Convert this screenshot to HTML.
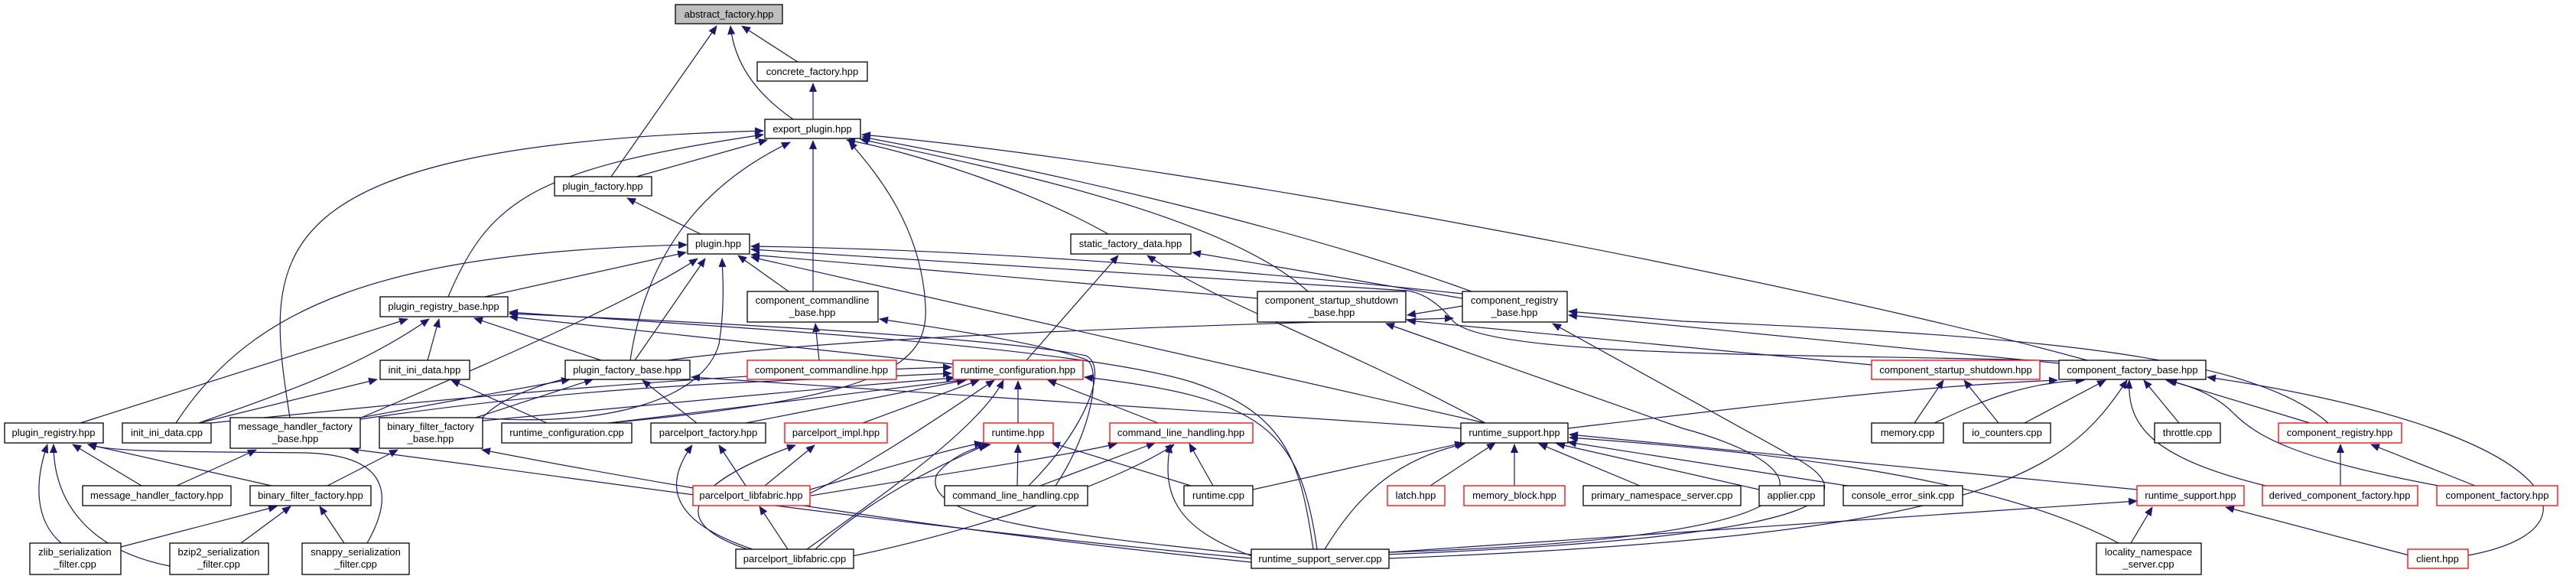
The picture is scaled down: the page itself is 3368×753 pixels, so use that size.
<!DOCTYPE html>
<html><head><meta charset="utf-8"><style>
html,body{margin:0;padding:0;background:#fff;}
svg{display:block;}
text{font-family:"Liberation Sans",sans-serif;font-size:13px;fill:#000;}
</style></head><body>
<svg width="3368" height="753" viewBox="0 0 3368 753" xmlns="http://www.w3.org/2000/svg">
<defs>
<marker id="a" markerUnits="userSpaceOnUse" markerWidth="12" markerHeight="10" refX="11" refY="5" orient="auto">
<path d="M0,0 L12,5 L0,10 z" fill="#191970"/>
</marker>
</defs>
<g fill="none" stroke="#191970" stroke-width="1.2" marker-end="url(#a)">
<path d="M1043,81 L970,34"/>
<path d="M1063,156 L1063,109"/>
<path d="M1037,156 C985,120 960,80 955,34"/>
<path d="M799,231 L937,34"/>
<path d="M832,231 L1003,183"/>
<path d="M916,306 L820,259"/>
<path d="M586,388 C640,260 700,220 998,176"/>
<path d="M379,546 C345,330 330,190 998,171"/>
<path d="M824,471 C845,330 920,240 1033,186"/>
<path d="M1063,381 L1063,184"/>
<path d="M796,553 C1150,520 1215,480 1210,400 C1205,300 1150,230 1110,185"/>
<path d="M1449,306 C1350,250 1200,200 1107,183"/>
<path d="M1710,381 C1600,280 1300,220 1125,182"/>
<path d="M1924,381 C1700,300 1400,230 1127,179"/>
<path d="M2729,471 C2400,380 1600,220 1127,176"/>
<path d="M230,553 C330,400 500,330 898,320"/>
<path d="M634,388 L897,330"/>
<path d="M472,546 C700,450 850,380 912,338"/>
<path d="M830,471 L922,338"/>
<path d="M622,546 C800,560 920,520 940,450 C948,400 945,360 944,338"/>
<path d="M1031,381 L965,334"/>
<path d="M1644,390 L982,333"/>
<path d="M1912,384 C1500,340 1200,325 982,322"/>
<path d="M2692,472 C2400,462 1950,470 1900,420 C1880,395 1860,383 1840,380 L982,326"/>
<path d="M1942,553 L982,336"/>
<path d="M105,553 L533,417"/>
<path d="M260,553 C380,510 470,480 561,417"/>
<path d="M559,471 L574,417"/>
<path d="M786,471 L620,416"/>
<path d="M1345,635 C1420,560 1450,480 1420,465 C1300,440 900,420 666,410"/>
<path d="M1246,476 L666,414"/>
<path d="M1717,718 C1700,600 1680,540 1560,500 C1400,450 900,425 666,408"/>
<path d="M260,553 L493,496"/>
<path d="M715,553 L590,497"/>
<path d="M471,546 L745,496"/>
<path d="M622,546 L775,496"/>
<path d="M911,553 L840,497"/>
<path d="M1910,560 L904,493"/>
<path d="M276,553 C600,520 900,490 1244,480"/>
<path d="M471,548 C800,500 1000,500 1244,488"/>
<path d="M631,550 C900,525 1100,505 1248,494"/>
<path d="M796,553 L1265,496"/>
<path d="M975,553 L1262,497"/>
<path d="M1128,553 L1280,497"/>
<path d="M1059,645 C1150,600 1250,530 1300,497"/>
<path d="M1055,718 C1150,650 1280,560 1312,497"/>
<path d="M1331,553 L1331,498"/>
<path d="M1514,553 L1370,497"/>
<path d="M1722,718 C1700,560 1650,520 1418,493"/>
<path d="M1342,471 L1462,334"/>
<path d="M1912,390 L1559,330"/>
<path d="M1942,553 C1750,450 1600,400 1500,334"/>
<path d="M1071,471 L1066,423"/>
<path d="M1380,635 C1430,560 1440,480 1420,470 C1350,445 1200,425 1150,417"/>
<path d="M1912,400 L1840,412"/>
<path d="M2447,477 L1840,419"/>
<path d="M1816,722 C2500,700 2350,600 2200,560 L1812,423"/>
<path d="M631,546 C700,470 1000,440 1900,416"/>
<path d="M3044,553 C2950,470 2700,440 2200,420 L2051,407"/>
<path d="M2692,475 L2051,412"/>
<path d="M1810,725 C2450,700 2420,640 2350,600 L2030,423"/>
<path d="M2529,553 C2600,520 2650,500 2725,497"/>
<path d="M2647,553 L2753,497"/>
<path d="M2849,553 L2803,497"/>
<path d="M3020,553 L2835,497"/>
<path d="M2962,635 C2820,600 2780,560 2784,497"/>
<path d="M3188,635 C3000,600 2950,570 2920,540 C2900,520 2870,505 2832,497"/>
<path d="M3227,726 C3420,690 3340,560 2886,493"/>
<path d="M1816,730 C2600,700 2700,620 2781,497"/>
<path d="M2050,560 C2300,530 2500,505 2690,497"/>
<path d="M2503,553 L2541,497"/>
<path d="M2613,553 L2568,497"/>
<path d="M1638,640 L1913,579"/>
<path d="M1732,718 C1780,640 1830,600 1915,580"/>
<path d="M1870,635 L1955,579"/>
<path d="M1980,635 L1980,581"/>
<path d="M2144,635 L2012,580"/>
<path d="M2300,640 L2035,580"/>
<path d="M2415,635 L2050,578"/>
<path d="M2770,710 C2600,620 2300,590 2052,572"/>
<path d="M2794,640 L2052,568"/>
<path d="M1330,635 L1331,581"/>
<path d="M1557,635 L1375,579"/>
<path d="M1059,640 C1200,600 1250,585 1285,579"/>
<path d="M1066,718 C1150,640 1250,600 1290,581"/>
<path d="M1636,725 C1400,700 1200,680 1225,620 C1240,600 1270,585 1295,581"/>
<path d="M1060,648 C1200,625 1400,595 1460,580"/>
<path d="M1360,635 L1510,579"/>
<path d="M1100,730 C1300,690 1480,620 1535,581"/>
<path d="M1586,635 L1555,580"/>
<path d="M1640,728 C1530,690 1520,640 1530,581"/>
<path d="M975,635 L940,582"/>
<path d="M984,718 C870,680 870,630 905,582"/>
<path d="M1000,635 L1065,582"/>
<path d="M990,722 C880,690 880,640 1040,582"/>
<path d="M1030,718 L993,662"/>
<path d="M231,635 L335,588"/>
<path d="M1636,730 C1100,680 800,630 458,587"/>
<path d="M428,635 L520,588"/>
<path d="M1636,735 C1200,690 900,640 630,588"/>
<path d="M185,635 L95,581"/>
<path d="M355,635 L115,581"/>
<path d="M80,710 C45,680 45,630 62,581"/>
<path d="M222,740 C120,720 70,660 70,581"/>
<path d="M480,710 C520,640 500,595 400,592 C250,590 150,592 115,581"/>
<path d="M158,715 L362,662"/>
<path d="M315,710 L380,662"/>
<path d="M450,710 L418,662"/>
<path d="M2786,710 L2814,663"/>
<path d="M3150,726 L2910,663"/>
<path d="M1816,722 L2794,655"/>
<path d="M3060,635 L3060,581"/>
<path d="M3236,635 L3100,581"/>
</g>
<g stroke-width="1.3">
<!-- nodes: rect + text -->
<rect x="883" y="6" width="140" height="25" fill="#bfbfbf" stroke="#000"/><text x="953" y="23" text-anchor="middle">abstract_factory.hpp</text>
<rect x="990" y="81" width="144" height="25" fill="#fff" stroke="#000"/><text x="1062" y="98" text-anchor="middle">concrete_factory.hpp</text>
<rect x="1000" y="156" width="125" height="25" fill="#fff" stroke="#000"/><text x="1062" y="173" text-anchor="middle">export_plugin.hpp</text>
<rect x="725" y="231" width="127" height="25" fill="#fff" stroke="#000"/><text x="788" y="248" text-anchor="middle">plugin_factory.hpp</text>
<rect x="899" y="306" width="81" height="26" fill="#fff" stroke="#000"/><text x="939" y="323" text-anchor="middle">plugin.hpp</text>
<rect x="1400" y="306" width="157" height="26" fill="#fff" stroke="#000"/><text x="1478" y="323" text-anchor="middle">static_factory_data.hpp</text>
<rect x="497" y="388" width="167" height="26" fill="#fff" stroke="#000"/><text x="580" y="405" text-anchor="middle">plugin_registry_base.hpp</text>
<rect x="977" y="381" width="171" height="40" fill="#fff" stroke="#000"/><text x="1062" y="397" text-anchor="middle">component_commandline</text><text x="1062" y="413" text-anchor="middle">_base.hpp</text>
<rect x="1644" y="381" width="194" height="40" fill="#fff" stroke="#000"/><text x="1741" y="397" text-anchor="middle">component_startup_shutdown</text><text x="1741" y="413" text-anchor="middle">_base.hpp</text>
<rect x="1912" y="381" width="137" height="40" fill="#fff" stroke="#000"/><text x="1980" y="397" text-anchor="middle">component_registry</text><text x="1980" y="413" text-anchor="middle">_base.hpp</text>
<rect x="497" y="471" width="117" height="25" fill="#fff" stroke="#000"/><text x="555" y="488" text-anchor="middle">init_ini_data.hpp</text>
<rect x="739" y="471" width="163" height="25" fill="#fff" stroke="#000"/><text x="820" y="488" text-anchor="middle">plugin_factory_base.hpp</text>
<rect x="977" y="471" width="195" height="25" fill="#fff" stroke="#f00"/><text x="1074" y="488" text-anchor="middle">component_commandline.hpp</text>
<rect x="1246" y="471" width="170" height="25" fill="#fff" stroke="#f00"/><text x="1331" y="488" text-anchor="middle">runtime_configuration.hpp</text>
<rect x="2447" y="471" width="220" height="25" fill="#fff" stroke="#f00"/><text x="2557" y="488" text-anchor="middle">component_startup_shutdown.hpp</text>
<rect x="2692" y="471" width="192" height="25" fill="#fff" stroke="#000"/><text x="2788" y="488" text-anchor="middle">component_factory_base.hpp</text>
<rect x="6" y="553" width="129" height="26" fill="#fff" stroke="#000"/><text x="70" y="570" text-anchor="middle">plugin_registry.hpp</text>
<rect x="160" y="553" width="116" height="26" fill="#fff" stroke="#000"/><text x="218" y="570" text-anchor="middle">init_ini_data.cpp</text>
<rect x="301" y="546" width="170" height="40" fill="#fff" stroke="#000"/><text x="386" y="562" text-anchor="middle">message_handler_factory</text><text x="386" y="578" text-anchor="middle">_base.hpp</text>
<rect x="496" y="546" width="135" height="40" fill="#fff" stroke="#000"/><text x="563" y="562" text-anchor="middle">binary_filter_factory</text><text x="563" y="578" text-anchor="middle">_base.hpp</text>
<rect x="656" y="553" width="170" height="26" fill="#fff" stroke="#000"/><text x="741" y="570" text-anchor="middle">runtime_configuration.cpp</text>
<rect x="851" y="553" width="150" height="26" fill="#fff" stroke="#000"/><text x="926" y="570" text-anchor="middle">parcelport_factory.hpp</text>
<rect x="1026" y="553" width="134" height="26" fill="#fff" stroke="#f00"/><text x="1093" y="570" text-anchor="middle">parcelport_impl.hpp</text>
<rect x="1286" y="553" width="91" height="26" fill="#fff" stroke="#f00"/><text x="1331" y="570" text-anchor="middle">runtime.hpp</text>
<rect x="1451" y="553" width="187" height="26" fill="#fff" stroke="#f00"/><text x="1544" y="570" text-anchor="middle">command_line_handling.hpp</text>
<rect x="1910" y="553" width="140" height="26" fill="#fff" stroke="#000"/><text x="1980" y="570" text-anchor="middle">runtime_support.hpp</text>
<rect x="2447" y="553" width="94" height="26" fill="#fff" stroke="#000"/><text x="2494" y="570" text-anchor="middle">memory.cpp</text>
<rect x="2567" y="553" width="114" height="26" fill="#fff" stroke="#000"/><text x="2624" y="570" text-anchor="middle">io_counters.cpp</text>
<rect x="2817" y="553" width="86" height="26" fill="#fff" stroke="#000"/><text x="2860" y="570" text-anchor="middle">throttle.cpp</text>
<rect x="2979" y="553" width="161" height="26" fill="#fff" stroke="#f00"/><text x="3059" y="570" text-anchor="middle">component_registry.hpp</text>
<rect x="108" y="635" width="194" height="26" fill="#fff" stroke="#000"/><text x="205" y="652" text-anchor="middle">message_handler_factory.hpp</text>
<rect x="327" y="635" width="158" height="26" fill="#fff" stroke="#000"/><text x="406" y="652" text-anchor="middle">binary_filter_factory.hpp</text>
<rect x="906" y="635" width="153" height="26" fill="#fff" stroke="#f00"/><text x="982" y="652" text-anchor="middle">parcelport_libfabric.hpp</text>
<rect x="1235" y="635" width="187" height="26" fill="#fff" stroke="#000"/><text x="1328" y="652" text-anchor="middle">command_line_handling.cpp</text>
<rect x="1548" y="635" width="90" height="26" fill="#fff" stroke="#000"/><text x="1593" y="652" text-anchor="middle">runtime.cpp</text>
<rect x="1814" y="635" width="75" height="26" fill="#fff" stroke="#f00"/><text x="1851" y="652" text-anchor="middle">latch.hpp</text>
<rect x="1914" y="635" width="132" height="26" fill="#fff" stroke="#f00"/><text x="1980" y="652" text-anchor="middle">memory_block.hpp</text>
<rect x="2070" y="635" width="206" height="26" fill="#fff" stroke="#000"/><text x="2173" y="652" text-anchor="middle">primary_namespace_server.cpp</text>
<rect x="2300" y="635" width="85" height="26" fill="#fff" stroke="#000"/><text x="2342" y="652" text-anchor="middle">applier.cpp</text>
<rect x="2410" y="635" width="156" height="26" fill="#fff" stroke="#000"/><text x="2488" y="652" text-anchor="middle">console_error_sink.cpp</text>
<rect x="2794" y="635" width="140" height="26" fill="#fff" stroke="#f00"/><text x="2864" y="652" text-anchor="middle">runtime_support.hpp</text>
<rect x="2958" y="635" width="203" height="26" fill="#fff" stroke="#f00"/><text x="3059" y="652" text-anchor="middle">derived_component_factory.hpp</text>
<rect x="3186" y="635" width="158" height="26" fill="#fff" stroke="#f00"/><text x="3265" y="652" text-anchor="middle">component_factory.hpp</text>
<rect x="39" y="710" width="119" height="41" fill="#fff" stroke="#000"/><text x="98" y="726" text-anchor="middle">zlib_serialization</text><text x="98" y="742" text-anchor="middle">_filter.cpp</text>
<rect x="222" y="710" width="129" height="41" fill="#fff" stroke="#000"/><text x="286" y="726" text-anchor="middle">bzip2_serialization</text><text x="286" y="742" text-anchor="middle">_filter.cpp</text>
<rect x="395" y="710" width="140" height="41" fill="#fff" stroke="#000"/><text x="465" y="726" text-anchor="middle">snappy_serialization</text><text x="465" y="742" text-anchor="middle">_filter.cpp</text>
<rect x="962" y="718" width="154" height="25" fill="#fff" stroke="#000"/><text x="1039" y="735" text-anchor="middle">parcelport_libfabric.cpp</text>
<rect x="1636" y="718" width="180" height="25" fill="#fff" stroke="#000"/><text x="1726" y="735" text-anchor="middle">runtime_support_server.cpp</text>
<rect x="2741" y="710" width="137" height="41" fill="#fff" stroke="#000"/><text x="2809" y="726" text-anchor="middle">locality_namespace</text><text x="2809" y="742" text-anchor="middle">_server.cpp</text>
<rect x="3148" y="718" width="79" height="25" fill="#fff" stroke="#f00"/><text x="3187" y="735" text-anchor="middle">client.hpp</text>
</g>
</svg>
</body></html>
